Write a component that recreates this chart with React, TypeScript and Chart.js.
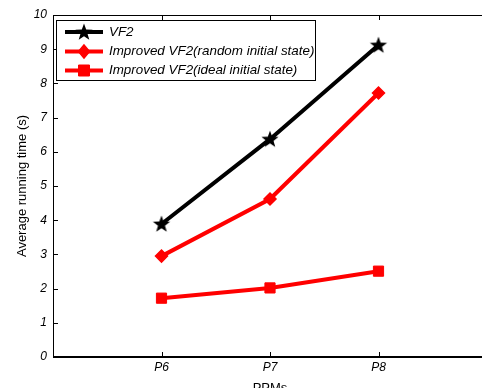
import React, { useEffect, useRef } from "react";
import { Chart, registerables } from "chart.js";

Chart.register(...registerables);

const categories = ["P6", "P7", "P8"];
const vf2 = [3.89, 6.37, 9.12];
const improvedRandom = [2.95, 4.62, 7.72];
const improvedIdeal = [1.72, 2.02, 2.51];
const seriesNames = [
  "VF2",
  "Improved VF2(random initial state)",
  "Improved VF2(ideal initial state)",
];
const yTicks = [0, 1, 2, 3, 4, 5, 6, 7, 8, 9, 10];

const FONT = '"Liberation Sans", Arial, Helvetica, sans-serif';

function makeStar(): HTMLCanvasElement {
  const c = document.createElement("canvas");
  c.width = 20;
  c.height = 20;
  const ctx = c.getContext("2d")!;
  const cx = 10, cy = 10.5, R = 9, r = 3.7;
  ctx.beginPath();
  for (let i = 0; i < 10; i++) {
    const rad = i % 2 === 0 ? R : r;
    const a = -Math.PI / 2 + (i * Math.PI) / 5;
    const px = cx + rad * Math.cos(a);
    const py = cy + rad * Math.sin(a);
    if (i === 0) ctx.moveTo(px, py);
    else ctx.lineTo(px, py);
  }
  ctx.closePath();
  ctx.fillStyle = "#000";
  ctx.fill();
  return c;
}

const framePlugin = {
  id: "frame",
  afterDraw(chart: any) {
    const { ctx, chartArea } = chart;
    const xs = chart.scales.x;
    const ys = chart.scales.y;
    const { left, top, right, bottom } = chartArea;
    ctx.save();
    ctx.strokeStyle = "#000";
    ctx.lineWidth = 1;
    ctx.beginPath();
    ctx.moveTo(left + 0.5, top);
    ctx.lineTo(left + 0.5, bottom);
    ctx.moveTo(left, top + 0.5);
    ctx.lineTo(right, top + 0.5);
    ctx.stroke();
    ctx.lineWidth = 2;
    ctx.beginPath();
    ctx.moveTo(left, bottom);
    ctx.lineTo(right, bottom);
    ctx.stroke();
    ctx.lineWidth = 1;
    ctx.beginPath();
    yTicks.forEach((v) => {
      const y = Math.round(ys.getPixelForValue(v)) + 0.5;
      ctx.moveTo(left, y);
      ctx.lineTo(left + 5, y);
    });
    categories.forEach((_, i) => {
      const x = Math.round(xs.getPixelForValue(i + 1)) + 0.5;
      ctx.moveTo(x, bottom);
      ctx.lineTo(x, bottom - 5);
      ctx.moveTo(x, top);
      ctx.lineTo(x, top + 5);
    });
    ctx.stroke();

    // legend
    const bx = 56.5, by = 20.5, bw = 259, bh = 60;
    ctx.fillStyle = "#fff";
    ctx.fillRect(bx, by, bw, bh);
    ctx.strokeStyle = "#000";
    ctx.lineWidth = 1;
    ctx.strokeRect(bx, by, bw, bh);
    const rows = [32, 51.5, 70.5];
    chart.data.datasets.forEach((ds: any, i: number) => {
      const y = rows[i];
      ctx.strokeStyle = ds.borderColor;
      ctx.lineWidth = 4;
      ctx.beginPath();
      ctx.moveTo(65, y);
      ctx.lineTo(103, y);
      ctx.stroke();
      const ps = ds.pointStyle;
      if (ps instanceof HTMLCanvasElement) {
        ctx.drawImage(ps, 84 - ps.width / 2, y - ps.height / 2);
      } else {
        ctx.fillStyle = ds.pointBackgroundColor;
        ctx.strokeStyle = ds.pointBorderColor;
        ctx.lineWidth = ds.pointBorderWidth;
        ctx.beginPath();
        if (ps === "rect") {
          ctx.rect(84 - 5.5, y - 5.5, 11, 11);
        } else {
          ctx.moveTo(84, y - 6.5);
          ctx.lineTo(84 + 5.5, y);
          ctx.lineTo(84, y + 6.5);
          ctx.lineTo(84 - 5.5, y);
          ctx.closePath();
        }
        ctx.fill();
        ctx.stroke();
      }
      ctx.fillStyle = "#000";
      ctx.font = `italic 13.4px ${FONT}`;
      ctx.textBaseline = "middle";
      ctx.textAlign = "left";
      ctx.fillText(seriesNames[i], 109, y);
    });
    ctx.restore();
  },
};

export default function App() {
  const ref = useRef<HTMLCanvasElement>(null);
  useEffect(() => {
    if (!ref.current) return;
    const star = makeStar();
    const toPts = (arr: number[]) => arr.map((v, i) => ({ x: i + 1, y: v }));
    const chart = new Chart(ref.current, {
      type: "line",
      data: {
        datasets: [
          {
            label: seriesNames[0],
            data: toPts(vf2),
            borderColor: "#000",
            backgroundColor: "#000",
            borderWidth: 4,
            pointStyle: star as any,
            pointRadius: 9,
          },
          {
            label: seriesNames[1],
            data: toPts(improvedRandom),
            borderColor: "#ff0000",
            backgroundColor: "#ff0000",
            borderWidth: 4,
            pointStyle: "rectRot",
            pointRadius: 6,
            pointBorderWidth: 1.5,
            pointBackgroundColor: "#ff0000",
            pointBorderColor: "#ff0000",
          },
          {
            label: seriesNames[2],
            data: toPts(improvedIdeal),
            borderColor: "#ff0000",
            backgroundColor: "#ff0000",
            borderWidth: 4,
            pointStyle: "rect",
            pointRadius: 7.2,
            pointBorderWidth: 1,
            pointBackgroundColor: "#ff0000",
            pointBorderColor: "#ff0000",
          },
        ],
      },
      options: {
        responsive: false,
        animation: false,
        layout: { padding: { left: 0, top: 15, right: 4, bottom: 0 } },
        plugins: { legend: { display: false }, tooltip: { enabled: false } },
        scales: {
          x: {
            type: "linear",
            min: 0,
            max: 4,
            afterBuildTicks: (scale: any) => {
              scale.ticks = categories.map((_, i) => ({ value: i + 1 }));
            },
            afterFit: (scale: any) => {
              scale.height = 41;
            },
            ticks: {
              autoSkip: false,
              maxRotation: 0,
              padding: 3,
              color: "#000",
              font: { family: FONT, size: 12, style: "italic" },
              callback: (v: any) => categories[Number(v) - 1] ?? "",
            },
            grid: { display: true, drawOnChartArea: false, drawTicks: false },
            border: { display: false },
            title: {
              display: true,
              text: "PPMs",
              color: "#000",
              font: { family: FONT, size: 13 },
              padding: { top: 0, bottom: 2 },
            },
          },
          y: {
            min: 0,
            max: 10,
            afterFit: (scale: any) => {
              scale.width = 53;
            },
            ticks: {
              stepSize: 1,
              padding: 6,
              color: "#000",
              font: { family: FONT, size: 12, style: "italic" },
            },
            grid: { display: true, drawOnChartArea: false, drawTicks: false },
            border: { display: false },
            title: {
              display: true,
              text: "Average running time (s)",
              color: "#000",
              font: { family: FONT, size: 13 },
              padding: { top: 15, bottom: 0 },
            },
          },
        },
      },
      plugins: [framePlugin],
    });
    return () => chart.destroy();
  }, []);
  return (
    <div
      style={{
        position: "absolute",
        left: 0,
        top: 0,
        width: 482,
        height: 388,
        overflow: "hidden",
        background: "#fff",
      }}
    >
      <canvas ref={ref} width={500} height={398} style={{ display: "block" }} />
    </div>
  );
}
